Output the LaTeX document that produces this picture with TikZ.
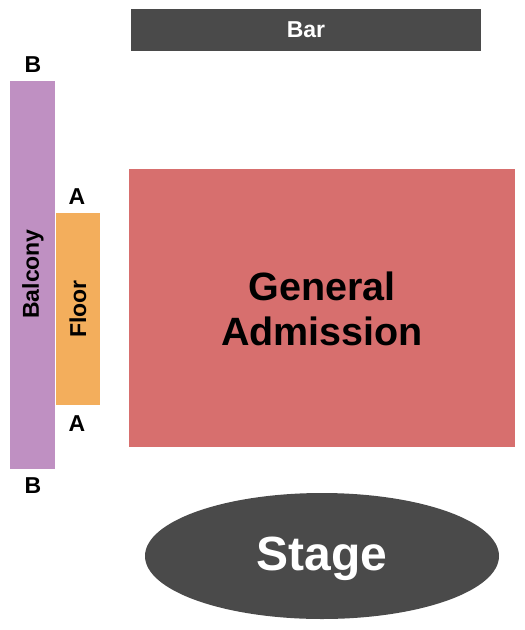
\documentclass[tikz,border=0pt]{standalone}
\usepackage{fontspec}
\setmainfont{Liberation Sans}
\usepackage{tikz}
\definecolor{stagegray}{HTML}{4A4A4A}
\definecolor{balconypurple}{HTML}{BF90C2}
\definecolor{floororange}{HTML}{F3AE5C}
\definecolor{gared}{HTML}{D76F6E}
\begin{document}
\begin{tikzpicture}[x = 1pt, y = -1pt,
		lbl/.style = {font = \fontsize{23}{26}\selectfont\bfseries},
		seclbl/.style = {font = \fontsize{23}{26}\selectfont\bfseries, inner sep = 0pt}]
			\useasboundingbox (0, 0) rectangle (525, 630);
			\fill[stagegray] (131, 9) rectangle (481, 51);
				\node[seclbl, text = white] (bar) at (306, 30) {Bar};
			\fill[balconypurple] (10, 81) rectangle (55, 469);
				\node[seclbl, rotate = 90] (balcony) at (33, 274) {Balcony};
			\fill[floororange] (56, 213) rectangle (100, 405);
				\node[seclbl, rotate = 90] (floor) at (78, 309) {Floor};
			\node[lbl] (btop) at (33, 65) {B};
			\node[lbl] (bbot) at (33, 486) {B};
			\node[lbl] (atop) at (77, 197) {A};
			\node[lbl] (abot) at (77, 424) {A};
			\fill[gared] (129, 169) rectangle (515, 447);
				\node[font = \fontsize{39.5}{45}\selectfont\bfseries, align = center] (ga) at (322, 309) {General\\Admission};
			\fill[stagegray] (322, 556) ellipse [x radius = 177, y radius = 63];
				\node[font = \fontsize{48}{52}\selectfont\bfseries, text = white] (stage) at (322, 559) {Stage};
		\end{tikzpicture}
\end{document}
